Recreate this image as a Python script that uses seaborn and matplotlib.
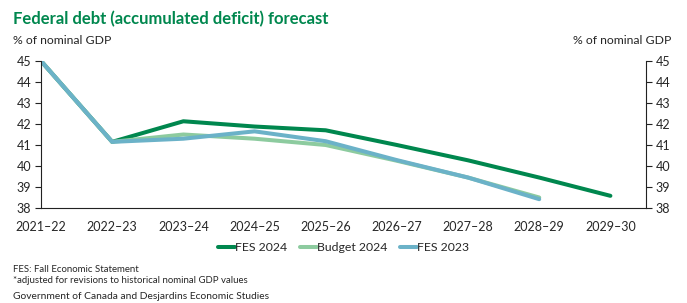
import pandas as pd
import matplotlib
matplotlib.use('Agg')
import matplotlib.pyplot as plt
import seaborn as sns

years = ['2021–22', '2022–23', '2023–24', '2024–25', '2025–26',
         '2026–27', '2027–28', '2028–29', '2029–30']
fes_2024 = [45.0, 41.15, 42.13, 41.88, 41.7, 41.0, 40.27, 39.45, 38.58]
budget_2024 = [45.0, 41.15, 41.5, 41.3, 41.0, 40.25, 39.45, 38.5, None]
fes_2023 = [45.0, 41.15, 41.3, 41.65, 41.18, 40.28, 39.45, 38.42, None]

series = ['FES 2024', 'Budget 2024', 'FES 2023']
colors = ['#00874E', '#8DCB9F', '#6BB2C8']

df = pd.DataFrame({'Year': years, 'FES 2024': fes_2024,
                   'Budget 2024': budget_2024, 'FES 2023': fes_2023})
df = df.melt(id_vars='Year', var_name='Series', value_name='Value').dropna()

sns.set_style('white')
plt.rcParams['font.family'] = ['Lato', 'DejaVu Sans']

fig = plt.figure(figsize=(6.87, 3.03), dpi=100)
ax = fig.add_axes([0.0597, 0.3135, 0.8806, 0.4852])

sns.lineplot(data=df, x='Year', y='Value', hue='Series', hue_order=series,
             palette=colors, linewidth=2.9, sort=False, ax=ax)

ax.set_xlim(0, 8.5)
ax.set_ylim(38, 45)
ax.set_yticks(range(38, 46))
ax.set_xlabel('')
ax.set_ylabel('')
for s in ['top', 'right']:
    ax.spines[s].set_visible(False)
for s in ['left', 'bottom']:
    ax.spines[s].set_color('#222222')
    ax.spines[s].set_linewidth(0.8)
ax.tick_params(axis='y', which='both', left=True, length=4, width=0.8,
               color='#222222', labelsize=9, pad=3)
ax.tick_params(axis='x', bottom=False, labelsize=9, pad=6)

ax2 = ax.twinx()
ax2.set_ylim(38, 45)
ax2.set_yticks(range(38, 46))
for s in ['top', 'left', 'bottom']:
    ax2.spines[s].set_visible(False)
ax2.spines['right'].set_color('#222222')
ax2.spines['right'].set_linewidth(0.8)
ax2.tick_params(axis='y', right=True, length=4, width=0.8,
                color='#222222', labelsize=9, pad=3)

ax.legend(loc='upper center', bbox_to_anchor=(0.5, -0.155), ncol=3,
          frameon=False, fontsize=8.8, handlelength=1.4, handletextpad=0.0,
          columnspacing=1.0)

fig.text(0.019, 0.937, 'Federal debt (accumulated deficit) forecast',
         color='#00874E', fontsize=12, fontweight='bold', va='center')
fig.text(0.019, 0.865, '% of nominal GDP', fontsize=8.8, va='center')
fig.text(0.977, 0.865, '% of nominal GDP', fontsize=8.8, va='center', ha='right')
fig.text(0.019, 0.109, 'FES: Fall Economic Statement', fontsize=6.9, va='center')
fig.text(0.019, 0.073, '*adjusted for revisions to historical nominal GDP values',
         fontsize=6.9, va='center')
fig.text(0.019, 0.023, 'Government of Canada and Desjardins Economic Studies',
         fontsize=7.4, va='center')

fig.savefig('out.png', dpi=100)
